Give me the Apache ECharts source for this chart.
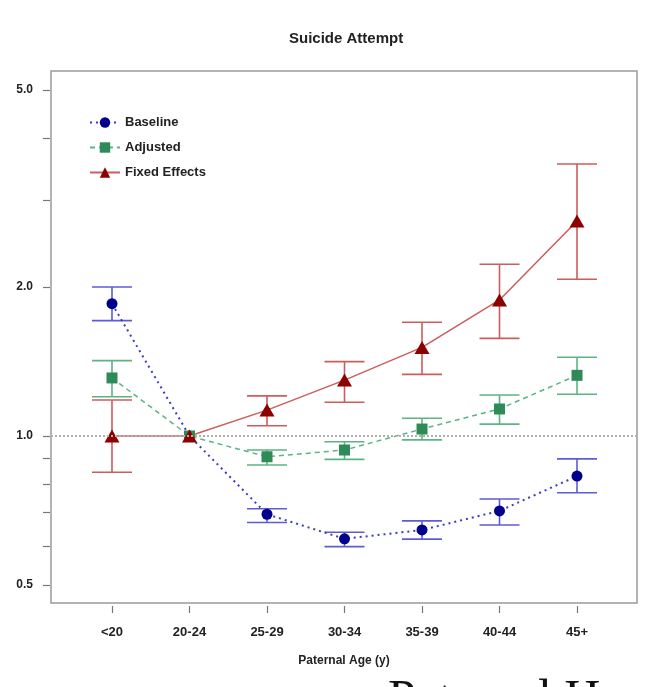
<!DOCTYPE html>
<html>
<head>
<meta charset="utf-8">
<script src="https://cdn.jsdelivr.net/npm/echarts@6/dist/echarts.min.js"></script>
<style>
  html, body { margin: 0; padding: 0; background: #fff; }
  #chart { width: 668px; height: 687px; }
</style>
</head>
<body>
<div id="chart"></div>
<script>
// categories and values (odds ratios, log scale)
var categories = ['<20', '20-24', '25-29', '30-34', '35-39', '40-44', '45+'];

var baseline     = [1.85, 1.0, 0.695, 0.62, 0.646, 0.706, 0.83];
var baselineLow  = [1.71, null, 0.669, 0.598, 0.619, 0.661, 0.768];
var baselineHigh = [2.0, null, 0.713, 0.639, 0.674, 0.746, 0.899];

var adjusted     = [1.31, 1.0, 0.908, 0.937, 1.033, 1.134, 1.326];
var adjustedLow  = [1.2, null, 0.874, 0.897, 0.982, 1.057, 1.214];
var adjustedHigh = [1.42, null, 0.937, 0.974, 1.086, 1.21, 1.442];

var fixedEff     = [1.0, 1.0, 1.128, 1.297, 1.51, 1.883, 2.719];
var fixedLow     = [0.845, null, 1.049, 1.17, 1.332, 1.575, 2.073];
var fixedHigh    = [1.182, null, 1.205, 1.413, 1.697, 2.223, 3.543];

var yLabels = [0.5, 1.0, 2.0, 5.0];
var yTicks = [0.5, 0.6, 0.7, 0.8, 0.9, 1.0, 2.0, 3.0, 4.0, 5.0];

var FONT = 'Liberation Sans';

var points = function(vals) {
    return vals.map(function(v, i) { return [i, v]; });
};

var errorBars = function(name, low, high, color) {
    var rows = [];
    for (var i = 0; i < low.length; i++) {
        if (low[i] != null) rows.push([i, low[i], high[i]]);
    }
    return {
        name: name,
        type: 'custom',
        z: 1,
        silent: true,
        data: rows,
        encode: { x: 0, y: [1, 2] },
        renderItem: function(params, api) {
            var x = api.value(0);
            var lo = api.coord([x, api.value(1)]);
            var hi = api.coord([x, api.value(2)]);
            var w = 20;
            var st = { stroke: color, lineWidth: 1.6 };
            return {
                type: 'group',
                children: [
                    { type: 'line', shape: { x1: lo[0], y1: lo[1], x2: hi[0], y2: hi[1] }, style: st },
                    { type: 'line', shape: { x1: lo[0] - w, y1: lo[1], x2: lo[0] + w, y2: lo[1] }, style: st },
                    { type: 'line', shape: { x1: hi[0] - w, y1: hi[1], x2: hi[0] + w, y2: hi[1] }, style: st }
                ]
            };
        }
    };
};

var chart = echarts.init(document.getElementById('chart'));

var option = {
    animation: false,
    backgroundColor: '#fff',
    title: [{
        text: 'Suicide Attempt',
        left: 284,
        top: 26,
        textStyle: { fontFamily: FONT, fontSize: 15, fontWeight: 'bold', color: '#222' }
    }, {
        text: 'Paternal H',
        left: 383,
        top: 671,
        textStyle: { fontFamily: 'Liberation Serif', fontSize: 50, fontWeight: 'normal', color: '#111' }
    }],
    legend: {
        orient: 'vertical',
        left: 84,
        top: 111,
        itemWidth: 30,
        itemHeight: 13,
        itemGap: 12,
        data: ['Baseline', 'Adjusted', 'Fixed Effects'],
        textStyle: { fontFamily: FONT, fontSize: 13, fontWeight: 'bold', color: '#222' }
    },
    grid: {
        left: 51,
        right: 31,
        top: 71,
        bottom: 84,
        show: true,
        borderColor: '#9a9a9a',
        borderWidth: 1.5
    },
    xAxis: {
        type: 'value',
        min: -0.787,
        max: 6.774,
        offset: 3,
        axisLine: { show: false, onZero: false },
        splitLine: { show: false },
        axisTick: { customValues: [0, 1, 2, 3, 4, 5, 6], length: 7, lineStyle: { color: '#777', width: 1.2 } },
        axisLabel: {
            customValues: [0, 1, 2, 3, 4, 5, 6],
            margin: 20,
            fontFamily: FONT, fontSize: 13, fontWeight: 'bold', color: '#222',
            formatter: function(v) { return categories[Math.round(v)]; }
        },
        name: 'Paternal Age (y)',
        nameLocation: 'middle',
        nameGap: 49,
        nameTextStyle: { fontFamily: FONT, fontSize: 12, fontWeight: 'bold', color: '#222' }
    },
    yAxis: {
        type: 'log',
        logBase: 10,
        min: 0.46,
        max: 5.46,
        offset: 1,
        axisLine: { show: false, onZero: false },
        splitLine: { show: false },
        minorTick: { show: false },
        axisTick: { customValues: yTicks, length: 7, lineStyle: { color: '#777', width: 1.2 } },
        axisLabel: {
            customValues: yLabels,
            margin: 17,
            fontFamily: FONT, fontSize: 12, fontWeight: 'bold', color: '#222',
            formatter: function(v) { return Number(v).toFixed(1); }
        }
    },
    series: [{
        name: 'Baseline',
        type: 'line',
        z: 3,
        data: points(baseline),
        symbol: 'circle',
        symbolSize: 11,
        itemStyle: { color: '#00008b' },
        lineStyle: { color: '#3a3acb', width: 2, type: [2, 4] },
        markLine: {
            silent: true,
            symbol: 'none',
            label: { show: false },
            lineStyle: { color: '#b0b0b0', width: 2, type: [2, 2] },
            data: [{ yAxis: 1 }]
        }
    }, {
        name: 'Adjusted',
        type: 'line',
        z: 3,
        data: points(adjusted),
        symbol: 'rect',
        symbolSize: 11,
        itemStyle: { color: '#2e8b57' },
        lineStyle: { color: '#5cb483', width: 1.5, type: [5, 4] }
    }, {
        name: 'Fixed Effects',
        type: 'line',
        z: 3,
        data: points(fixedEff),
        symbol: 'triangle',
        symbolSize: [15, 13],
        itemStyle: { color: '#8b0000' },
        lineStyle: { color: '#cd5c5c', width: 1.5 }
    },
    errorBars('Baseline', baselineLow, baselineHigh, '#5c5cd6'),
    errorBars('Adjusted', adjustedLow, adjustedHigh, '#5cb483'),
    errorBars('Fixed Effects', fixedLow, fixedHigh, '#cd5c5c')
    ]
};

chart.setOption(option);
</script>
</body>
</html>
